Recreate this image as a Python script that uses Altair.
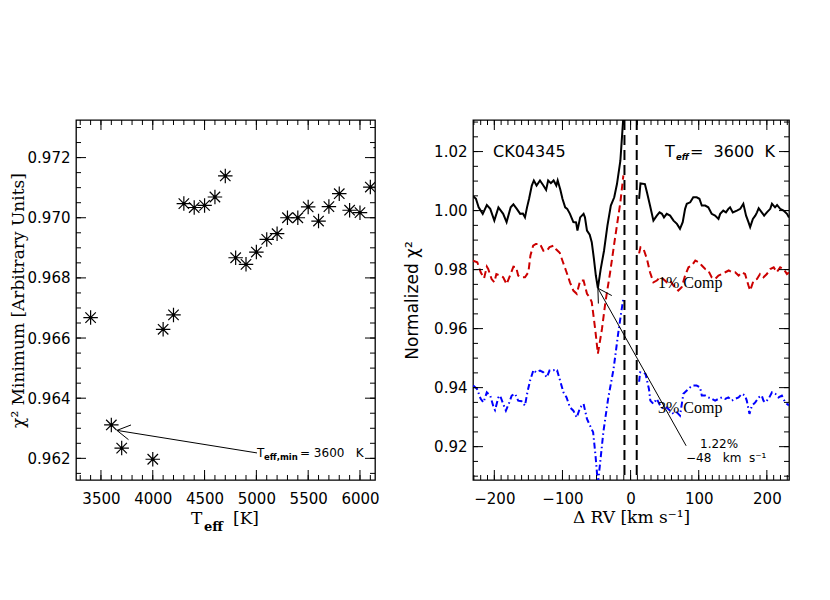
import altair as alt
import pandas as pd

# ---------------- Left panel data ----------------
teff = [3400, 3600, 3700, 4000, 4100, 4200, 4300, 4400, 4500, 4600, 4700, 4800, 4900,
        5000, 5100, 5200, 5300, 5400, 5500, 5600, 5700, 5800, 5900, 6000, 6100, 6200]
chi2_min = [0.96668, 0.96311, 0.96234, 0.96197, 0.96629, 0.96677, 0.97047, 0.97034,
            0.97041, 0.97069, 0.97139, 0.96867, 0.96845, 0.96886, 0.96928, 0.96947,
            0.97000, 0.97000, 0.97036, 0.96989, 0.97037, 0.97080, 0.97025, 0.97017,
            0.97102, 0.97233]

# ---------------- Right panel data ----------------
rv_black_a = [-231, -227, -223, -217, -211, -206, -200, -194, -187, -182, -176, -172, -167, -162, -158,
              -155, -152, -149, -145, -142, -138, -133, -128, -124, -121, -117, -113, -109, -107, -103,
              -100, -96, -93, -89, -84, -80, -78, -74, -69, -67, -64, -60, -57, -54, -51,
              -48, -44, -39, -34, -29, -24, -20, -15, -11, -8]
chi_black_a = [1.0049, 1.0040, 1.0011, 0.9989, 1.0019, 1.0006, 0.9966, 1.0011, 0.9989, 0.9961,
               1.0011, 1.0021, 1.0006, 0.9989, 0.9990, 0.9977, 1.0011, 1.0040, 1.0085, 1.0102,
               1.0085, 1.0102, 1.0085, 1.0070, 1.0102, 1.0093, 1.0102, 1.0085, 1.0102, 1.0070,
               1.0040, 1.0011, 1.0006, 0.9989, 0.9961, 0.9960, 0.9932, 0.9977, 0.9989, 0.9977,
               0.9932, 0.9918, 0.9893, 0.9840, 0.9780, 0.9737, 0.9800, 0.9864, 0.9949, 1.0017,
               1.0045, 1.0090, 1.0169, 1.0305, 1.0420]
rv_black_b = [12.5, 14.5, 21, 24, 28.5, 33.5, 38.5, 42.5, 46, 49, 53, 58, 63, 68, 72.5,
              76.5, 80, 82.5, 87.5, 92, 97, 101, 104.5, 109.5, 114, 119, 124, 129, 131.5, 136,
              140, 143.5, 146, 150, 156, 161, 165.5, 169.5, 173, 175.5, 179.5, 183, 185.5, 188, 192.5,
              196, 200, 205, 207.5, 212, 215, 219.5, 224.5, 229.5, 232.5]
chi_black_b = [1.0040, 1.0092, 1.0090, 1.0062, 1.0017, 0.9966, 0.9983, 0.9994, 0.9989, 0.9977,
               0.9989, 0.9983, 0.9966, 0.9955, 0.9938, 0.9961, 1.0006, 1.0023, 1.0028, 1.0045,
               1.0045, 1.0040, 1.0017, 1.0017, 1.0011, 0.9989, 0.9983, 0.9972, 0.9989, 1.0000,
               0.9994, 1.0006, 1.0011, 0.9994, 1.0000, 1.0006, 1.0023, 0.9983, 0.9961, 0.9944,
               0.9972, 0.9983, 0.9994, 1.0008, 0.9994, 0.9983, 0.9994, 1.0006, 1.0023, 1.0011,
               1.0019, 1.0006, 1.0000, 0.9989, 0.9977]

rv_red_a = [-231, -225, -220, -215, -211, -209, -204, -200, -197, -192, -187, -182, -177, -172, -168,
            -165, -160, -155, -150, -147, -143, -139, -133, -128, -123, -119, -113, -109, -104, -100,
            -94, -89, -84, -79, -74, -69, -64, -60, -57, -52, -48, -42, -37, -30, -23, -15, -10.6]
chi_red_a = [0.9830, 0.9825, 0.9791, 0.9771, 0.9810, 0.9802, 0.9768, 0.9757, 0.9785, 0.9780,
             0.9774, 0.9751, 0.9780, 0.9810, 0.9808, 0.9780, 0.9774, 0.9774, 0.9791, 0.9848,
             0.9881, 0.9887, 0.9887, 0.9864, 0.9864, 0.9876, 0.9881, 0.9868, 0.9857, 0.9830,
             0.9791, 0.9757, 0.9729, 0.9718, 0.9763, 0.9763, 0.9718, 0.9706, 0.9690, 0.9599,
             0.9515, 0.9599, 0.9689, 0.9791, 0.9904, 1.0028, 1.0119]
rv_red_b = [12.5, 14.5, 19, 24, 28.5, 33.5, 38.5, 43.5, 48, 53, 58, 63, 70, 75, 80,
            85, 90, 95, 100, 104.5, 109.5, 114, 119, 124, 129, 134, 139, 144, 148.5, 153.5,
            158.5, 163.5, 168, 173, 175.5, 180.5, 185.5, 190, 195, 200, 205, 210, 214.5, 219.5, 224.5,
            229.5, 232.5]
chi_red_b = [0.9855, 0.9876, 0.9870, 0.9836, 0.9791, 0.9757, 0.9763, 0.9774, 0.9768, 0.9757,
             0.9763, 0.9746, 0.9729, 0.9740, 0.9780, 0.9808, 0.9814, 0.9831, 0.9825, 0.9814,
             0.9802, 0.9797, 0.9774, 0.9768, 0.9780, 0.9785, 0.9791, 0.9797, 0.9791, 0.9791,
             0.9780, 0.9791, 0.9785, 0.9746, 0.9729, 0.9763, 0.9768, 0.9785, 0.9774, 0.9785,
             0.9802, 0.9808, 0.9791, 0.9808, 0.9802, 0.9785, 0.9790]

rv_blue_a = [-231, -225.5, -220, -216, -211, -206, -201, -199, -194, -191.5, -187, -183, -178, -174.5, -169.5,
             -165, -160, -155, -151.5, -147.5, -142.5, -139, -133, -128, -123, -119, -113, -109, -107.5, -103.5,
             -98.5, -94, -89, -84, -79, -74, -69, -64, -59.5, -55, -51.5, -48, -44, -40, -33,
             -25, -18, -13, -10.6]
chi_blue_a = [0.9407, 0.9396, 0.9362, 0.9350, 0.9384, 0.9373, 0.9333, 0.9324, 0.9367, 0.9373,
              0.9345, 0.9322, 0.9350, 0.9373, 0.9379, 0.9356, 0.9354, 0.9339, 0.9384, 0.9424,
              0.9460, 0.9452, 0.9458, 0.9452, 0.9435, 0.9458, 0.9460, 0.9452, 0.9456, 0.9424,
              0.9384, 0.9367, 0.9333, 0.9322, 0.9299, 0.9333, 0.9345, 0.9294, 0.9271, 0.9249,
              0.9170, 0.9075, 0.9160, 0.9249, 0.9362, 0.9463, 0.9587, 0.9667, 0.9701]
rv_blue_b = [12.5, 14, 19.5, 22, 27, 29, 33.5, 38.5, 43.5, 48, 53, 58, 63, 68, 72.5,
             77.5, 82.5, 87.5, 92, 97, 102, 104.5, 109.5, 114, 119, 124, 129, 134, 139, 143.5,
             148.5, 153.5, 158.5, 163.5, 168, 170.5, 174.5, 178, 183, 188, 192.5, 195, 197.5, 202.5, 207.5,
             212.5, 217, 222, 227, 229.5, 232.5]
chi_blue_b = [0.9420, 0.9452, 0.9450, 0.9446, 0.9395, 0.9356, 0.9345, 0.9362, 0.9339, 0.9328,
              0.9333, 0.9322, 0.9311, 0.9316, 0.9305, 0.9379, 0.9390, 0.9401, 0.9407, 0.9407,
              0.9401, 0.9373, 0.9373, 0.9367, 0.9362, 0.9356, 0.9362, 0.9367, 0.9362, 0.9367,
              0.9356, 0.9362, 0.9367, 0.9379, 0.9373, 0.9356, 0.9311, 0.9339, 0.9350, 0.9367,
              0.9373, 0.9356, 0.9350, 0.9362, 0.9384, 0.9379, 0.9367, 0.9373, 0.9350, 0.9345,
              0.9340]

rv_window = [-9, 9]

# tick values
left_x_major = [3500, 4000, 4500, 5000, 5500, 6000]
left_x_minor = list(range(3300, 6200, 100))
left_y_major = [0.962, 0.964, 0.966, 0.968, 0.970, 0.972]
left_y_minor = [round(0.9615 + 0.0005 * i, 4) for i in range(24)]
right_x_major = [-200, -100, 0, 100, 200]
right_x_minor = list(range(-230, 231, 10))
right_y_major = [0.92, 0.94, 0.96, 0.98, 1.00, 1.02]
right_y_minor = [round(0.910 + 0.005 * i, 3) for i in range(25)]

# annotation arrows (data coordinates)
left_arrow = {"x0": [3654, 3654, 3654], "y0": [0.96293, 0.96293, 0.96293],
              "x1": [5006, 3790, 3766], "y1": [0.96218, 0.96311, 0.96262]}
right_arrow = {"x0": [-48, -48, -48], "y0": [0.9737, 0.9737, 0.9737],
               "x1": [81.5, -27.6, -47.3], "y1": [0.9203, 0.9712, 0.9685]}

LW, RW, H = 299, 316, 360
LX = alt.Scale(domain=[3259, 6145], nice=False, zero=False)
LY = alt.Scale(domain=[0.96128, 0.97325], nice=False, zero=False)
RX = alt.Scale(domain=[-231.3, 232.5], nice=False, zero=False)
RY = alt.Scale(domain=[0.9087, 1.0307], nice=False, zero=False)

STAR = "M-1,0L1,0M0,-1L0,1M-0.72,-0.72L0.72,0.72M-0.72,0.72L0.72,-0.72"

LXAX = alt.Axis(values=left_x_major, format="d", labelPadding=11, title=None)
LYAX = alt.Axis(values=left_y_major, format=".3f", labelPadding=6,
                title="\u03c7\u00b2 Minimum [Arbitrary Units]", titleFont="DejaVu Serif",
                titleFontSize=17, titlePadding=0)
RXAX = alt.Axis(values=right_x_major, format="d", labelPadding=11,
                title="\u0394 RV [km s\u207b\u00b9]", titleFont="DejaVu Serif",
                titleFontSize=17, titlePadding=3)
RYAX = alt.Axis(values=right_y_major, format=".2f", labelPadding=6,
                title="Normalized \u03c7\u00b2", titleFont="DejaVu Sans",
                titleFontSize=17, titlePadding=12)


def label(text, x, y, font, size, weight="normal", style="normal"):
    return alt.Chart(pd.DataFrame({"t": [text]})).mark_text(
        align="left", baseline="middle", font=font, fontSize=size,
        fontWeight=weight, fontStyle=style, color="black"
    ).encode(text="t:N", x=alt.value(x), y=alt.value(y))


def tick_layers(xvals_major, xvals_minor, yvals_major, yvals_minor, xs, ys, xax, yax, W):
    layers = []
    for vals, ln in ((xvals_major, 10), (xvals_minor, 5)):
        base = alt.Chart(pd.DataFrame({"v": vals})).mark_rule(color="black", strokeWidth=1)
        layers.append(base.encode(x=alt.X("v:Q", scale=xs, axis=xax), y=alt.value(H), y2=alt.value(H - ln)))
        layers.append(base.encode(x=alt.X("v:Q", scale=xs, axis=xax), y=alt.value(0), y2=alt.value(ln)))
    for vals, ln in ((yvals_major, 10), (yvals_minor, 5)):
        base = alt.Chart(pd.DataFrame({"v": vals})).mark_rule(color="black", strokeWidth=1)
        layers.append(base.encode(y=alt.Y("v:Q", scale=ys, axis=yax), x=alt.value(0), x2=alt.value(ln)))
        layers.append(base.encode(y=alt.Y("v:Q", scale=ys, axis=yax), x=alt.value(W), x2=alt.value(W - ln)))
    return layers


# ---------------- Left chart ----------------
left_df = pd.DataFrame({"teff": teff, "chi2": chi2_min})

stars = alt.Chart(left_df).mark_point(shape=STAR, filled=False, stroke="black", strokeWidth=1.2,
                                      size=210, opacity=1, clip=True).encode(
    x=alt.X("teff:Q", scale=LX, axis=LXAX), y=alt.Y("chi2:Q", scale=LY, axis=LYAX))
dots = alt.Chart(left_df).mark_circle(size=10, color="black", opacity=1, clip=True).encode(
    x=alt.X("teff:Q", scale=LX, axis=LXAX), y=alt.Y("chi2:Q", scale=LY, axis=LYAX))
larrow = alt.Chart(pd.DataFrame(left_arrow)).mark_rule(color="black", strokeWidth=1).encode(
    x=alt.X("x0:Q", scale=LX, axis=LXAX), y=alt.Y("y0:Q", scale=LY, axis=LYAX),
    x2="x1:Q", y2="y1:Q")

left_labels = [
    label("T", 181, 333, "DejaVu Sans", 12),
    label("eff,min", 188, 337, "DejaVu Sans", 8.5, weight="bold"),
    label("=\u00a03600\u00a0\u00a0\u00a0K", 224, 333, "DejaVu Sans", 12),
    label("T", 115, 399, "DejaVu Serif", 17),
    label("eff", 128, 407, "DejaVu Serif", 13, weight="bold"),
    label("[K]", 157, 399, "DejaVu Serif", 17),
]

left = alt.layer(stars, dots, larrow, *left_labels,
                 *tick_layers(left_x_major, left_x_minor, left_y_major, left_y_minor,
                              LX, LY, LXAX, LYAX, LW)
                 ).properties(width=LW, height=H)

# ---------------- Right chart ----------------
def seg_df(rv, chi, seg):
    return pd.DataFrame({"rv": rv, "chi": chi, "seg": seg})

black_df = pd.concat([seg_df(rv_black_a, chi_black_a, "a"), seg_df(rv_black_b, chi_black_b, "b")])
red_df = pd.concat([seg_df(rv_red_a, chi_red_a, "a"), seg_df(rv_red_b, chi_red_b, "b")])
blue_df = pd.concat([seg_df(rv_blue_a, chi_blue_a, "a"), seg_df(rv_blue_b, chi_blue_b, "b")])


def curve(df, **kw):
    return alt.Chart(df).mark_line(clip=True, strokeWidth=2, **kw).encode(
        x=alt.X("rv:Q", scale=RX, axis=RXAX), y=alt.Y("chi:Q", scale=RY, axis=RYAX), detail="seg:N")


black = curve(black_df, color="black")
red = curve(red_df, color="#cc0000", strokeDash=[7, 4])
blue = curve(blue_df, color="#0000ff", strokeDash=[6, 3, 1.5, 3])
vlines = alt.Chart(pd.DataFrame({"rv": rv_window})).mark_rule(
    color="black", strokeWidth=2, strokeDash=[10, 5]).encode(x=alt.X("rv:Q", scale=RX, axis=RXAX))
rarrow = alt.Chart(pd.DataFrame(right_arrow)).mark_rule(color="black", strokeWidth=1).encode(
    x=alt.X("x0:Q", scale=RX, axis=RXAX), y=alt.Y("y0:Q", scale=RY, axis=RYAX),
    x2="x1:Q", y2="y1:Q")

right_labels = [
    label("CK04345", 20, 32, "DejaVu Sans", 16),
    label("T", 192, 32, "DejaVu Sans", 16),
    label("eff", 203, 37, "DejaVu Sans", 8.5, weight="bold", style="italic"),
    label("=\u00a0\u00a03600\u00a0\u00a0K", 217, 32, "DejaVu Sans", 16),
    label("1% Comp", 185, 163, "Liberation Serif", 16),
    label("3% Comp", 185, 288, "Liberation Serif", 16),
    label("1.22%", 227, 324, "DejaVu Sans", 12),
    label("\u221248\u00a0\u00a0\u00a0km\u00a0\u00a0s\u207b\u00b9", 213, 338, "DejaVu Sans", 12),
]

right = alt.layer(black, red, blue, vlines, rarrow, *right_labels,
                  *tick_layers(right_x_major, right_x_minor, right_y_major, right_y_minor,
                               RX, RY, RXAX, RYAX, RW)
                  ).properties(width=RW, height=H)

chart = alt.hconcat(left, right, spacing=22).configure_view(
    stroke="black", strokeWidth=1.3
).configure_axis(
    labelFont="DejaVu Sans", labelFontSize=15, labelColor="black", ticks=False, domain=False,
    grid=False, titleColor="black", titleFontWeight="normal"
).properties(background="white", padding={"top": 110, "left": 0, "right": 5, "bottom": 5})

chart.save("out.html", embed_options={"renderer": "svg", "actions": False})
